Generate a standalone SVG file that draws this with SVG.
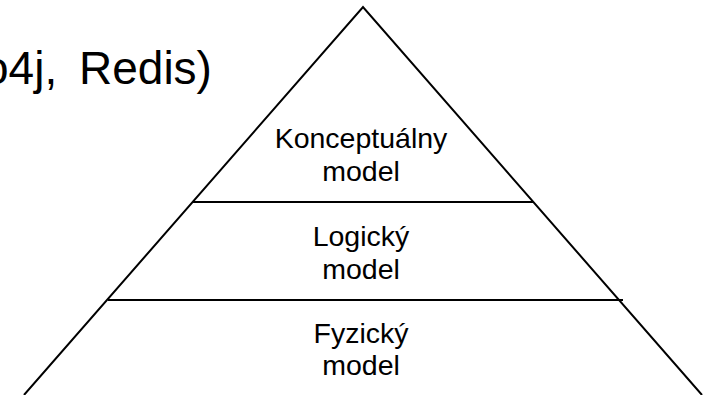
<svg xmlns="http://www.w3.org/2000/svg" width="706" height="395" viewBox="0 0 706 395">
  <style>
    .edge { stroke: #000; stroke-width: 2; fill: none; stroke-linecap: butt; }
    .label { font-family: "Liberation Sans", Arial, sans-serif; font-size: 28.5px; fill: #000; text-anchor: middle; }
    .title { font-family: "Liberation Sans", Arial, sans-serif; font-size: 46px; fill: #000; }
  </style>
  <rect width="706" height="395" fill="#fff"/>
  <text class="title" y="84"><tspan x="-17">o4j,</tspan><tspan x="79">Redis)</tspan></text>
  <g id="connectors">
    <polyline class="edge" points="24,395 363,7 702,395"/>
    <line class="edge" x1="193" y1="202" x2="533" y2="202"/>
    <line class="edge" x1="108" y1="300" x2="623" y2="300"/>
  </g>
  <g id="konceptualny">
    <text class="label" x="361" y="148">Konceptuálny</text>
    <text class="label" x="361" y="181">model</text>
  </g>
  <g id="logicky">
    <text class="label" x="361" y="246">Logický</text>
    <text class="label" x="361" y="279">model</text>
  </g>
  <g id="fyzicky">
    <text class="label" x="361" y="343">Fyzický</text>
    <text class="label" x="361" y="375">model</text>
  </g>
</svg>
